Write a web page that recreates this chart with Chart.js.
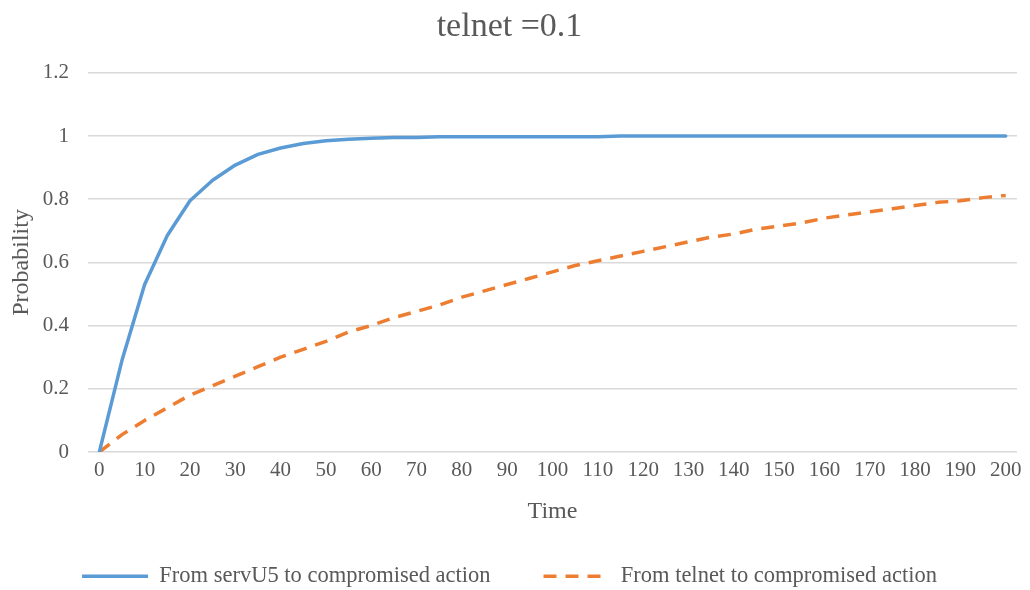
<!DOCTYPE html>
<html>
<head>
<meta charset="utf-8">
<title>telnet =0.1</title>
<script src="https://cdn.jsdelivr.net/npm/chart.js@4"></script>
<style>
  html, body { margin: 0; padding: 0; background: #ffffff; }
  #wrap { width: 1030px; height: 590px; }
</style>
</head>
<body>
<div id="wrap"><canvas id="chart" width="1030" height="590"></canvas></div>
<script>
// Time steps (every 5 units; labels shown every 10)
const times = [0, 5, 10, 15, 20, 25, 30, 35, 40, 45, 50, 55, 60, 65, 70, 75, 80, 85, 90, 95, 100,
               105, 110, 115, 120, 125, 130, 135, 140, 145, 150, 155, 160, 165, 170, 175, 180, 185, 190, 195, 200];

// Probability of reaching the compromised action from servU5
const servU5Prob = [0, 0.29, 0.53, 0.685, 0.795, 0.86, 0.908, 0.942, 0.962, 0.976, 0.985,
                    0.99, 0.993, 0.995, 0.995, 0.998, 0.998, 0.998, 0.998, 0.998, 0.998,
                    0.998, 0.998, 1, 1, 1, 1, 1, 1, 1, 1,
                    1, 1, 1, 1, 1, 1, 1, 1, 1, 1];

// Probability of reaching the compromised action from telnet
const telnetProb = [0, 0.055, 0.1, 0.14, 0.18, 0.21, 0.24, 0.27, 0.3, 0.325, 0.35,
                    0.38, 0.4, 0.425, 0.445, 0.465, 0.49, 0.51, 0.53, 0.55, 0.57,
                    0.59, 0.605, 0.62, 0.635, 0.65, 0.665, 0.68, 0.69, 0.705, 0.715,
                    0.725, 0.74, 0.75, 0.76, 0.77, 0.78, 0.79, 0.795, 0.805, 0.812];

const yTicks = [0, 0.2, 0.4, 0.6, 0.8, 1, 1.2];

const FONT = "'Liberation Serif', 'Times New Roman', serif";
const TEXT = '#595959';
const GRID = '#d9d9d9';

// Wide item spacing in the bottom legend without pushing the plot up:
// the legend box is extended upward so its row sits in the right place.
const legendLift = {
  id: 'legendLift',
  afterLayout(chart) {
    const lg = chart.legend;
    if (lg) { lg.top -= 15; lg.height += 15; }
  }
};

new Chart(document.getElementById('chart'), {
  type: 'line',
  plugins: [legendLift],
  data: {
    labels: times.map(String),
    datasets: [
      {
        label: 'From servU5 to compromised action',
        data: servU5Prob,
        borderColor: '#5b9bd5',
        backgroundColor: '#5b9bd5',
        borderWidth: 3.5,
        pointRadius: 0,
        tension: 0,
        borderJoinStyle: 'round',
        borderCapStyle: 'round'
      },
      {
        label: 'From telnet to compromised action',
        data: telnetProb,
        borderColor: '#ed7d31',
        backgroundColor: '#ed7d31',
        borderWidth: 3.5,
        borderDash: [13, 9],
        pointRadius: 0,
        tension: 0,
        borderJoinStyle: 'round'
      }
    ]
  },
  options: {
    responsive: false,
    animation: false,
    layout: { padding: { left: 2, right: 13, top: 0, bottom: 0 } },
    plugins: {
      title: {
        display: true,
        text: 'telnet =0.1',
        color: TEXT,
        font: { family: FONT, size: 34, weight: 'normal' },
        padding: { top: 7, bottom: 25 }
      },
      legend: {
        position: 'bottom',
        maxHeight: 63,
        labels: {
          color: TEXT,
          font: { family: FONT, size: 22.5 },
          usePointStyle: true,
          pointStyle: 'line',
          pointStyleWidth: 66,
          boxHeight: 22,
          padding: 53,
          // keep each series' line width and dash in its legend sample
          generateLabels: (chart) =>
            Chart.defaults.plugins.legend.labels.generateLabels(chart).map((item) => {
              const ds = chart.data.datasets[item.datasetIndex];
              item.lineDash = ds.borderDash || [];
              item.lineWidth = ds.borderWidth;
              item.strokeStyle = ds.borderColor;
              item.lineCap = 'butt';
              return item;
            })
        }
      },
      tooltip: { enabled: false }
    },
    scales: {
      x: {
        type: 'category',
        offset: true,
        grid: { display: false, drawTicks: false },
        border: { display: false },
        ticks: {
          autoSkip: false,
          maxRotation: 0,
          padding: 6,
          color: TEXT,
          font: { family: FONT, size: 21 },
          callback: (v, i) => (times[i] % 10 === 0 ? String(times[i]) : '')
        },
        title: {
          display: true,
          text: 'Time',
          color: TEXT,
          font: { family: FONT, size: 24 },
          padding: { top: 8, bottom: 1 }
        }
      },
      y: {
        min: 0,
        max: 1.2,
        afterBuildTicks: (axis) => { axis.ticks = yTicks.map(v => ({ value: v })); },
        afterFit: (axis) => { axis.width = 86; },
        grid: { color: GRID, lineWidth: 1.5, drawTicks: false },
        border: { display: false },
        ticks: {
          padding: 19,
          color: TEXT,
          font: { family: FONT, size: 21 },
          callback: (v) => String(Math.round(v * 10) / 10)
        },
        title: {
          display: true,
          text: 'Probability',
          color: TEXT,
          font: { family: FONT, size: 24 },
          padding: { top: 5, bottom: 4 }
        }
      }
    }
  }
});
</script>
</body>
</html>
